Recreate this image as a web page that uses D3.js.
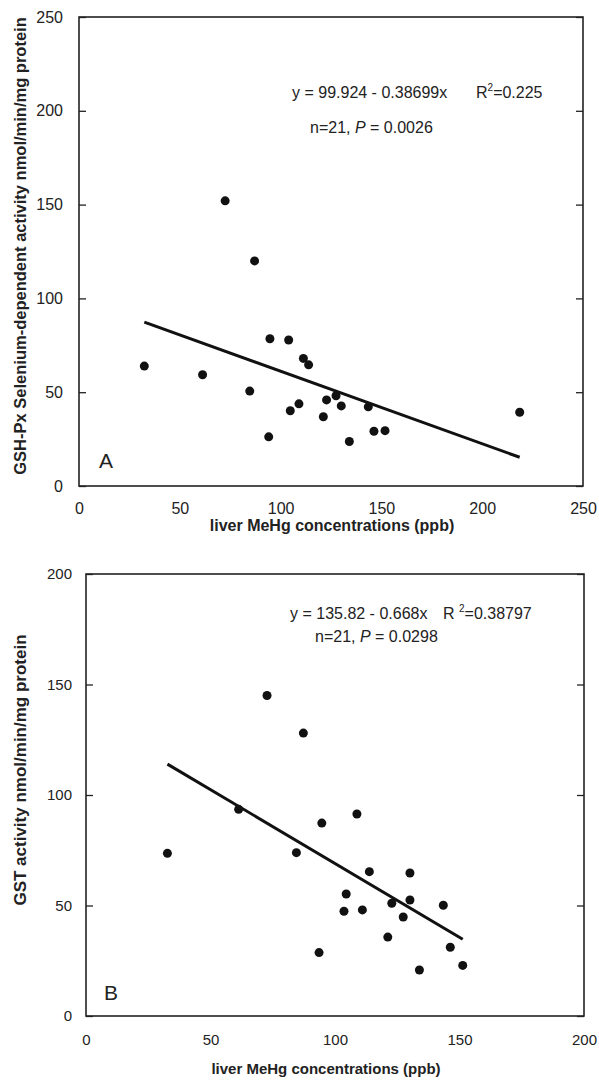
<!DOCTYPE html>
<html>
<head>
<meta charset="utf-8">
<script src="https://cdn.jsdelivr.net/npm/d3@7"></script>
<style>
  html, body { margin: 0; padding: 0; background: #fff; }
  svg { display: block; font-family: "Liberation Sans", Arial, sans-serif; }
</style>
</head>
<body>
<svg id="chart" width="599" height="1082"></svg>
<script>
// ---------- Data ----------
// Panel A: GSH-Px selenium-dependent activity vs liver MeHg
const gshMeHg = [32.4, 61.3, 72.5, 84.7, 87.1, 94.1, 94.7, 104.0, 104.8, 109.1, 111.3,
                 113.9, 121.2, 122.8, 127.5, 130.1, 134.1, 143.5, 146.3, 151.8, 218.6];
const gshActivity = [63.9, 59.3, 152.0, 50.6, 120.0, 26.2, 78.5, 77.8, 40.1, 43.8, 68.0,
                     64.6, 36.9, 45.9, 48.1, 42.7, 23.7, 42.2, 29.2, 29.5, 39.3];
const gshFit = [99.924, -0.38699];            // intercept, slope
const gshTicksX = [0, 50, 100, 150, 200, 250];
const gshTicksY = [0, 50, 100, 150, 200, 250];

// Panel B: GST activity vs liver MeHg
const gstMeHg = [32.7, 61.3, 72.7, 84.5, 87.3, 93.6, 94.7, 103.6, 104.5, 108.8, 111.0,
                 113.8, 121.2, 122.8, 127.4, 130.1, 130.1, 133.9, 143.5, 146.3, 151.3];
const gstActivity = [73.6, 93.5, 145.0, 73.9, 128.0, 28.7, 87.3, 47.4, 55.2, 91.4, 48.0,
                     65.3, 35.7, 51.0, 44.8, 64.7, 52.5, 20.8, 50.1, 31.1, 22.9];
const gstFit = [135.82, -0.668];
const gstTicksX = [0, 50, 100, 150, 200];
const gstTicksY = [0, 50, 100, 150, 200];

const xTitle = "liver MeHg concentrations (ppb)";

// ---------- Drawing ----------
const svg = d3.select("#chart");
svg.append("rect").attr("width", 599).attr("height", 1082).attr("fill", "#fff");

function panel(cfg) {
  const g = svg.append("g");
  const x = d3.scaleLinear().domain(cfg.xDomain).range([cfg.left, cfg.right]);
  const y = d3.scaleLinear().domain(cfg.yDomain).range([cfg.bottom, cfg.top]);
  const fs = cfg.fontSize;

  // left axis: inward ticks + labels
  const la = g.append("g").attr("transform", `translate(${cfg.left},0)`)
    .call(d3.axisLeft(y).tickValues(cfg.yTicks).tickSize(-7).tickPadding(cfg.yPad).tickFormat(d3.format("d")));
  // right axis: inward ticks only
  const ra = g.append("g").attr("transform", `translate(${cfg.right},0)`)
    .call(d3.axisRight(y).tickValues(cfg.yTicks).tickSize(-7).tickFormat(""));
  // bottom axis: labels only
  const ba = g.append("g").attr("transform", `translate(0,${cfg.bottom})`)
    .call(d3.axisBottom(x).tickValues(cfg.xTicks).tickSize(0).tickPadding(cfg.xPad).tickFormat(d3.format("d")));
  [la, ra, ba].forEach(a => {
    a.select(".domain").remove();
    a.selectAll("line").attr("stroke", "#222").attr("stroke-width", 1.3);
    a.selectAll("text").attr("fill", "#222").style("font-size", fs + "px")
      .style("font-family", '"Liberation Sans", Arial, sans-serif');
  });

  // frame
  g.append("rect")
    .attr("x", cfg.left).attr("y", cfg.top)
    .attr("width", cfg.right - cfg.left).attr("height", cfg.bottom - cfg.top)
    .attr("fill", "none").attr("stroke", "#222").attr("stroke-width", 1.6);

  // regression line over data range
  const ext = d3.extent(cfg.xs);
  const line = d3.line().x(d => x(d)).y(d => y(cfg.fit[0] + cfg.fit[1] * d));
  g.append("path").datum(ext).attr("d", line)
    .attr("fill", "none").attr("stroke", "#111").attr("stroke-width", 3);

  // points
  g.selectAll("circle.pt").data(cfg.xs.map((v, i) => [v, cfg.ys[i]])).enter()
    .append("circle").attr("class", "pt")
    .attr("cx", d => x(d[0])).attr("cy", d => y(d[1])).attr("r", 4.5)
    .attr("fill", "#111");

  // axis titles
  g.append("text").attr("x", cfg.xTitleX).attr("y", cfg.xTitleY)
    .attr("text-anchor", "middle").attr("font-weight", "bold")
    .style("font-size", cfg.titleSize + "px").attr("fill", "#222").text(xTitle);
  g.append("text")
    .attr("transform", `translate(${cfg.yTitleX},${cfg.yTitleY}) rotate(-90)`)
    .attr("text-anchor", "middle").attr("font-weight", "bold")
    .style("font-size", cfg.yTitleSize + "px").attr("fill", "#222").text(cfg.yTitle);

  // panel letter
  g.append("text").attr("x", cfg.letterX).attr("y", cfg.letterY)
    .style("font-size", "21px").attr("fill", "#222").text(cfg.letter);

  // annotations
  const a1 = g.append("text").attr("x", cfg.eqX).attr("y", cfg.eqY)
    .style("font-size", "16px").attr("fill", "#222");
  a1.text(cfg.eqText);
  const a2 = g.append("text").attr("x", cfg.rX).attr("y", cfg.eqY)
    .style("font-size", "16px").attr("fill", "#222");
  a2.append("tspan").text(cfg.rLabel);
  a2.append("tspan").attr("dy", -7).style("font-size", "10px").text("2");
  a2.append("tspan").attr("dy", 7).text(cfg.rValue);
  const a3 = g.append("text").attr("x", cfg.nX).attr("y", cfg.nY)
    .style("font-size", "16px").attr("fill", "#222");
  a3.append("tspan").text("n=21, ");
  a3.append("tspan").style("font-style", "italic").text("P");
  a3.append("tspan").text(" = " + cfg.pValue);
}

panel({
  xs: gshMeHg, ys: gshActivity, fit: gshFit,
  xDomain: [0, 250], yDomain: [0, 250], xTicks: gshTicksX, yTicks: gshTicksY,
  left: 79, right: 583, top: 17, bottom: 486,
  fontSize: 16, titleSize: 16, yTitleSize: 16.5, yPad: 16, xPad: 17,
  xTitleX: 332, xTitleY: 531,
  yTitleX: 26, yTitleY: 246,
  yTitle: "GSH-Px Selenium-dependent activity nmol/min/mg protein",
  letter: "A", letterX: 99, letterY: 468,
  eqText: "y = 99.924 - 0.38699x", eqX: 292, eqY: 98,
  rLabel: "R", rValue: "=0.225", rX: 476,
  nX: 310, nY: 133, pValue: "0.0026"
});

panel({
  xs: gstMeHg, ys: gstActivity, fit: gstFit,
  xDomain: [0, 200], yDomain: [0, 200], xTicks: gstTicksX, yTicks: gstTicksY,
  left: 86, right: 584, top: 574, bottom: 1016,
  fontSize: 15, titleSize: 15, yTitleSize: 17, yPad: 14, xPad: 18,
  xTitleX: 326, xTitleY: 1074,
  yTitleX: 26, yTitleY: 770,
  yTitle: "GST activity nmol/min/mg protein",
  letter: "B", letterX: 104, letterY: 1000,
  eqText: "y = 135.82 - 0.668x", eqX: 290, eqY: 619,
  rLabel: "R ", rValue: "=0.38797", rX: 443,
  nX: 315, nY: 642, pValue: "0.0298"
});
</script>
</body>
</html>
